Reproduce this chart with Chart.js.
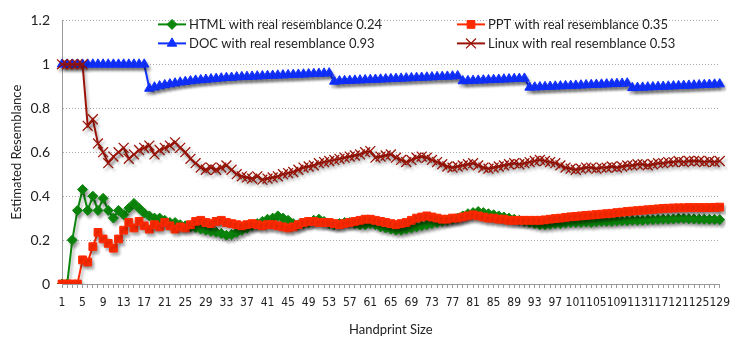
<!DOCTYPE html>
<html>
<head>
<meta charset="utf-8">
<script src="https://cdn.jsdelivr.net/npm/chart.js@4.4.1/dist/chart.umd.min.js"></script>
<style>
    html, body { margin: 0; padding: 0; background: #fff; }
    #wrap { width: 738px; height: 338px; position: relative; }
</style>
</head>
<body>
<div id="wrap"><canvas id="resemblanceChart"></canvas></div>
<script>
// Handprint sizes 1..129 on the x axis
const handprintSizes = Array.from({ length: 129 }, (_, i) => i + 1);
const yTicks = [0, 0.2, 0.4, 0.6, 0.8, 1, 1.2];

const htmlValues = [
    0, 0, 0.20, 0.335, 0.43, 0.335, 0.40, 0.335, 0.39, 0.335,
    0.30, 0.335, 0.315, 0.345, 0.367, 0.345, 0.323, 0.31, 0.30, 0.30,
    0.29, 0.28, 0.28, 0.27, 0.265, 0.26, 0.257, 0.25, 0.245, 0.24,
    0.236, 0.23, 0.222, 0.225, 0.235, 0.245, 0.255, 0.265, 0.275, 0.285,
    0.295, 0.30, 0.31, 0.30, 0.29, 0.275, 0.27, 0.275, 0.28, 0.29,
    0.295, 0.285, 0.275, 0.27, 0.275, 0.28, 0.28, 0.275, 0.27, 0.27,
    0.275, 0.27, 0.26, 0.255, 0.25, 0.245, 0.245, 0.25, 0.255, 0.26,
    0.265, 0.27, 0.275, 0.28, 0.285, 0.29, 0.295, 0.30, 0.31, 0.32,
    0.325, 0.33, 0.325, 0.32, 0.315, 0.31, 0.305, 0.30, 0.295, 0.29,
    0.285, 0.28, 0.275, 0.27, 0.27, 0.272, 0.275, 0.275, 0.278, 0.28,
    0.28, 0.28, 0.282, 0.28, 0.283, 0.285, 0.285, 0.285, 0.287, 0.288,
    0.288, 0.29, 0.29, 0.29, 0.292, 0.293, 0.294, 0.295, 0.295, 0.296,
    0.298, 0.298, 0.297, 0.296, 0.295, 0.295, 0.294, 0.294, 0.293
];

const pptValues = [
    0, 0, 0, 0, 0.11, 0.10, 0.17, 0.235, 0.205, 0.185,
    0.163, 0.205, 0.245, 0.28, 0.255, 0.285, 0.265, 0.25, 0.27, 0.26,
    0.28, 0.265, 0.25, 0.26, 0.255, 0.27, 0.285, 0.29, 0.28, 0.275,
    0.285, 0.29, 0.28, 0.275, 0.27, 0.265, 0.27, 0.275, 0.27, 0.265,
    0.27, 0.27, 0.265, 0.26, 0.255, 0.26, 0.27, 0.28, 0.285, 0.285,
    0.28, 0.28, 0.28, 0.275, 0.27, 0.275, 0.28, 0.285, 0.29, 0.295,
    0.295, 0.29, 0.285, 0.28, 0.275, 0.27, 0.275, 0.28, 0.29, 0.30,
    0.305, 0.31, 0.305, 0.30, 0.295, 0.295, 0.30, 0.30, 0.305, 0.31,
    0.315, 0.31, 0.305, 0.30, 0.30, 0.295, 0.295, 0.29, 0.29, 0.29,
    0.29, 0.29, 0.29, 0.29, 0.292, 0.295, 0.298, 0.30, 0.303, 0.306,
    0.308, 0.31, 0.312, 0.314, 0.316, 0.318, 0.32, 0.322, 0.325, 0.327,
    0.33, 0.332, 0.334, 0.336, 0.338, 0.34, 0.342, 0.344, 0.345, 0.346,
    0.347, 0.347, 0.348, 0.348, 0.348, 0.348, 0.348, 0.349, 0.35
];

const docValues = [
    1, 1, 1, 1, 1, 1, 1, 1, 1, 1,
    1, 1, 1, 1, 1, 1, 1, 0.890, 0.896, 0.901,
    0.906, 0.910, 0.914, 0.918, 0.921, 0.924, 0.927, 0.929, 0.931, 0.933,
    0.935, 0.937, 0.939, 0.940, 0.942, 0.943, 0.944, 0.945, 0.946, 0.947,
    0.948, 0.949, 0.950, 0.951, 0.952, 0.953, 0.954, 0.955, 0.956, 0.957,
    0.958, 0.959, 0.960, 0.922, 0.924, 0.925, 0.926, 0.927, 0.928, 0.929,
    0.930, 0.931, 0.932, 0.933, 0.934, 0.935, 0.936, 0.937, 0.938, 0.939,
    0.940, 0.941, 0.942, 0.943, 0.944, 0.945, 0.946, 0.947, 0.924, 0.925,
    0.926, 0.927, 0.928, 0.929, 0.930, 0.931, 0.932, 0.933, 0.934, 0.935,
    0.936, 0.895, 0.896, 0.897, 0.898, 0.899, 0.900, 0.901, 0.902, 0.903,
    0.904, 0.905, 0.906, 0.907, 0.908, 0.909, 0.910, 0.911, 0.912, 0.913,
    0.914, 0.893, 0.894, 0.895, 0.896, 0.897, 0.898, 0.899, 0.900, 0.901,
    0.902, 0.903, 0.904, 0.905, 0.906, 0.907, 0.908, 0.909, 0.910
];

const linuxValues = [
    1, 1, 1, 1, 1, 0.72, 0.75, 0.64, 0.60, 0.55,
    0.58, 0.60, 0.62, 0.57, 0.59, 0.61, 0.62, 0.63, 0.59, 0.61,
    0.62, 0.63, 0.645, 0.62, 0.60, 0.57, 0.55, 0.53, 0.52, 0.53,
    0.52, 0.53, 0.54, 0.52, 0.50, 0.49, 0.485, 0.48, 0.49, 0.475,
    0.48, 0.485, 0.49, 0.50, 0.505, 0.51, 0.52, 0.53, 0.535, 0.54,
    0.55, 0.555, 0.56, 0.565, 0.57, 0.575, 0.58, 0.585, 0.59, 0.60,
    0.605, 0.575, 0.58, 0.585, 0.59, 0.575, 0.565, 0.555, 0.565, 0.575,
    0.58, 0.575, 0.565, 0.555, 0.545, 0.535, 0.53, 0.535, 0.54, 0.545,
    0.55, 0.54, 0.53, 0.525, 0.53, 0.535, 0.54, 0.545, 0.55, 0.545,
    0.55, 0.555, 0.56, 0.565, 0.56, 0.555, 0.55, 0.54, 0.53, 0.525,
    0.52, 0.525, 0.53, 0.53, 0.525, 0.53, 0.53, 0.535, 0.53, 0.535,
    0.54, 0.54, 0.545, 0.545, 0.54, 0.545, 0.55, 0.55, 0.555, 0.555,
    0.56, 0.555, 0.56, 0.56, 0.56, 0.555, 0.56, 0.555, 0.56
];

const seriesNames = [
    'HTML with real resemblance 0.24',
    'PPT with real resemblance 0.35',
    'DOC with real resemblance 0.93',
    'Linux with real resemblance 0.53'
];

const textColor = '#222';
const fontFamily = 'Lato, "Open Sans", sans-serif';

// soft drop shadow under the lines and markers, like the original
const shadowPlugin = {
    id: 'markerShadow',
    beforeDatasetsDraw(chart) {
        const ctx = chart.ctx;
        ctx.save();
        ctx.shadowColor = 'rgba(0,0,0,0.3)';
        ctx.shadowBlur = 3;
        ctx.shadowOffsetX = 2;
        ctx.shadowOffsetY = 3;
    },
    afterDatasetsDraw(chart) {
        chart.ctx.restore();
    }
};

// legend drawn inside the plot area, two columns, two rows
const insideLegend = {
    id: 'insideLegend',
    afterDraw(chart) {
        const ctx = chart.ctx;
        const area = chart.chartArea;
        const cols = [area.left + 96, area.left + 395];
        const rows = [area.top + 4, area.top + 23];
        const slots = [[0, 0], [1, 0], [0, 1], [1, 1]];
        ctx.save();
        ctx.font = '13px ' + fontFamily;
        ctx.textBaseline = 'middle';
        chart.data.datasets.forEach(function(ds, i) {
            const x = cols[slots[i][0]];
            const y = rows[slots[i][1]];
            ctx.strokeStyle = ds.borderColor;
            ctx.lineWidth = ds.borderWidth;
            ctx.beginPath();
            ctx.moveTo(x, y);
            ctx.lineTo(x + 28, y);
            ctx.stroke();
            ctx.fillStyle = ds.pointBackgroundColor;
            ctx.strokeStyle = ds.pointBorderColor;
            ctx.lineWidth = ds.pointBorderWidth;
            Chart.helpers.drawPoint(ctx, {
                pointStyle: ds.pointStyle,
                radius: ds.pointRadius,
                rotation: 0,
                borderWidth: ds.pointBorderWidth
            }, x + 14, y);
            ctx.fillStyle = textColor;
            ctx.fillText(ds.label, x + 31, y);
        });
        ctx.restore();
    }
};

const ctx = document.getElementById('resemblanceChart');

new Chart(ctx, {
    type: 'line',
    data: {
        labels: handprintSizes,
        datasets: [{
            label: seriesNames[0],
            data: htmlValues,
            borderColor: '#0c870c',
            borderWidth: 2,
            pointStyle: 'rectRot',
            pointRadius: 5,
            pointBackgroundColor: '#0c870c',
            pointBorderColor: '#0c870c',
            pointBorderWidth: 1,
            order: 4
        }, {
            label: seriesNames[1],
            data: pptValues,
            borderColor: '#ff2a00',
            borderWidth: 2,
            pointStyle: 'rect',
            pointRadius: 5.5,
            pointBackgroundColor: '#ff2a00',
            pointBorderColor: '#ff2a00',
            pointBorderWidth: 1,
            order: 3
        }, {
            label: seriesNames[2],
            data: docValues,
            borderColor: '#1030ff',
            borderWidth: 2,
            pointStyle: 'triangle',
            pointRadius: 5.5,
            pointBackgroundColor: '#1030ff',
            pointBorderColor: '#1030ff',
            pointBorderWidth: 1,
            order: 2
        }, {
            label: seriesNames[3],
            data: linuxValues,
            borderColor: '#9a1408',
            borderWidth: 2,
            pointStyle: 'crossRot',
            pointRadius: 7,
            pointBackgroundColor: '#9a1408',
            pointBorderColor: '#9a1408',
            pointBorderWidth: 1.3,
            order: 1
        }]
    },
    options: {
        responsive: true,
        maintainAspectRatio: false,
        animation: false,
        layout: {
            padding: { left: 0, right: 16, top: 9, bottom: 0 }
        },
        elements: {
            line: { tension: 0 }
        },
        scales: {
            x: {
                type: 'category',
                offset: false,
                afterFit: function(scale) { scale.height = 54; },
                grid: {
                    drawOnChartArea: false,
                    drawTicks: true,
                    tickLength: 4,
                    color: '#999'
                },
                border: { color: '#999' },
                ticks: {
                    autoSkip: false,
                    maxRotation: 0,
                    minRotation: 0,
                    padding: 8,
                    color: textColor,
                    font: { family: '"Liberation Sans Narrow", "DejaVu Sans Condensed", sans-serif', size: 12 },
                    callback: function(value, index) {
                        return index % 4 === 0 ? this.getLabelForValue(value) : '';
                    }
                },
                title: {
                    display: true,
                    text: 'Handprint Size',
                    color: textColor,
                    font: { family: fontFamily, size: 13 },
                    padding: { top: 2, bottom: 0 }
                }
            },
            y: {
                min: 0,
                max: 1.2,
                afterFit: function(scale) { scale.width = 62; },
                afterBuildTicks: function(scale) {
                    scale.ticks = yTicks.map(function(v) { return { value: v }; });
                },
                grid: {
                    color: '#aaa',
                    drawTicks: false
                },
                border: { color: '#999', dash: [1, 2] },
                ticks: {
                    padding: 12,
                    color: textColor,
                    font: { family: fontFamily, size: 14 },
                    callback: function(value) { return String(Math.round(value * 10) / 10); }
                },
                title: {
                    display: true,
                    text: 'Estimated Resemblance',
                    color: textColor,
                    font: { family: fontFamily, size: 13 },
                    padding: { top: 9, bottom: 0 }
                }
            }
        },
        plugins: {
            legend: { display: false },
            tooltip: { enabled: false }
        }
    },
    plugins: [shadowPlugin, insideLegend]
});
</script>
</body>
</html>
